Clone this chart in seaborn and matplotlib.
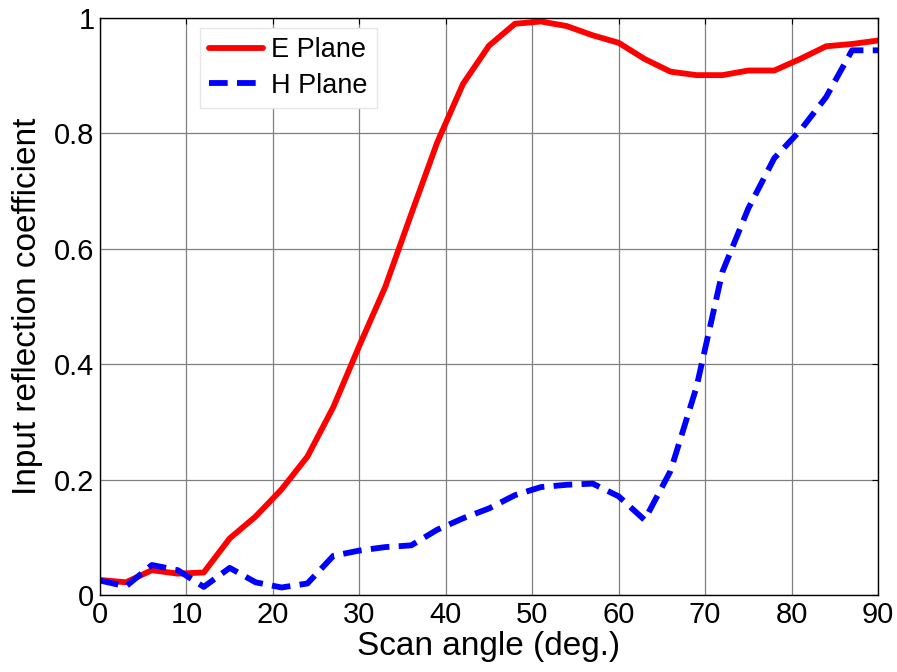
import matplotlib
matplotlib.use("Agg")
import matplotlib.pyplot as plt
import seaborn as sns
import pandas as pd

# Scan angles (degrees) and input reflection coefficient magnitudes
angles = list(range(0, 91, 3))
e_plane = [0.026, 0.022, 0.043, 0.037, 0.039, 0.098, 0.136, 0.183, 0.240, 0.326,
           0.432, 0.534, 0.660, 0.784, 0.886, 0.952, 0.990, 0.994, 0.986, 0.970,
           0.957, 0.929, 0.907, 0.901, 0.901, 0.909, 0.909, 0.929, 0.951, 0.955,
           0.961]
h_plane = [0.025, 0.015, 0.052, 0.043, 0.014, 0.047, 0.022, 0.013, 0.020, 0.068,
           0.077, 0.083, 0.086, 0.113, 0.133, 0.150, 0.173, 0.187, 0.191, 0.193,
           0.171, 0.130, 0.215, 0.360, 0.560, 0.670, 0.757, 0.805, 0.863, 0.944,
           0.944]
series_names = ["E Plane", "H Plane"]
x_ticks = list(range(0, 91, 10))
y_ticks = [0, 0.2, 0.4, 0.6, 0.8, 1.0]
y_tick_labels = ["0", "0.2", "0.4", "0.6", "0.8", "1"]

sns.set_style("white")
plt.rcParams["font.family"] = ["Liberation Sans", "DejaVu Sans"]
plt.rcParams["text.color"] = "black"
plt.rcParams["axes.labelcolor"] = "black"
plt.rcParams["xtick.color"] = "black"
plt.rcParams["ytick.color"] = "black"

df = pd.concat([
    pd.DataFrame({"angle": angles, "coef": e_plane, "plane": series_names[0]}),
    pd.DataFrame({"angle": angles, "coef": h_plane, "plane": series_names[1]}),
])

fig = plt.figure(figsize=(8.97, 6.72), dpi=100)
ax = fig.add_axes([0.1115, 0.1146, 0.8673, 0.8586])

sns.lineplot(data=df, x="angle", y="coef", hue="plane", style="plane",
             palette={"E Plane": "#ff0000", "H Plane": "#0000ff"},
             dashes={"E Plane": "", "H Plane": (3.2, 1.6)},
             linewidth=4.2, ax=ax, legend=True)

ax.set_xlim(0, 90)
ax.set_ylim(0, 1)
ax.set_xticks(x_ticks)
ax.set_yticks(y_ticks)
ax.set_yticklabels(y_tick_labels)
ax.grid(True, color="#808080", linewidth=0.9)
ax.set_axisbelow(True)
ax.tick_params(direction="in", length=4, width=0.8, top=True, right=True,
               labelsize=21, pad=4, color="black", labelcolor="black")
for side in ax.spines.values():
    side.set_visible(True)
    side.set_color("black")
    side.set_linewidth(1.0)

ax.set_xlabel("Scan angle (deg.)", fontsize=24, labelpad=2, color="black")
ax.set_ylabel("Input reflection coefficient", fontsize=24, labelpad=8, color="black")

leg = ax.legend(loc="upper left", bbox_to_anchor=(0.128, 0.983), fontsize=19.5,
                handlelength=2.0, handletextpad=0.3, labelspacing=0.35,
                borderpad=0.35, borderaxespad=0, frameon=True, fancybox=False,
                framealpha=1)
leg.get_frame().set_edgecolor("#e6e6e6")
leg.get_frame().set_linewidth(1.0)
for t in leg.get_texts():
    t.set_color("black")

fig.savefig("out.png", dpi=100)
